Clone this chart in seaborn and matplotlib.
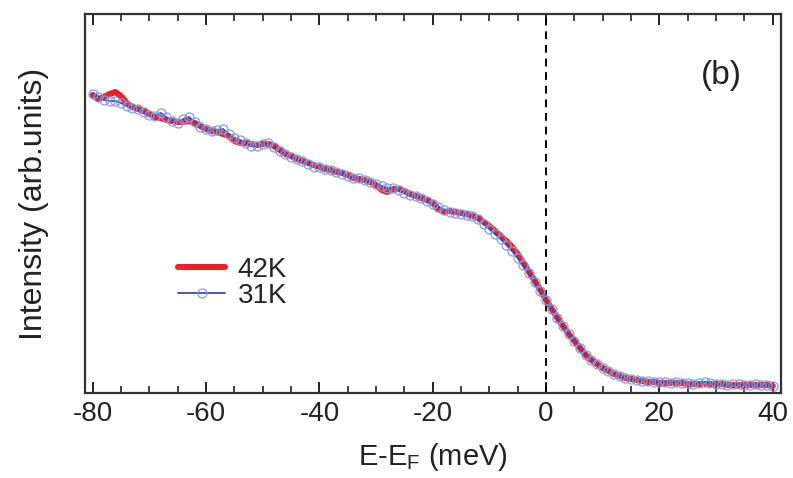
import numpy as np
import pandas as pd
import matplotlib
matplotlib.use("Agg")
import matplotlib.pyplot as plt
import seaborn as sns
from matplotlib.ticker import MultipleLocator

# Energy grid (meV, relative to the Fermi level)
energy = list(range(-80, 41))

# 31K spectrum (arb. units)
intensity_31k = [
    299, 296, 293, 292, 292, 290, 287, 285, 284, 281,
    278, 277, 280, 276, 272, 270, 274, 276, 271, 266,
    264, 262, 263, 264, 259, 255, 253, 250, 247, 247,
    249, 250, 246, 242, 239, 236, 234, 232, 229, 226,
    226, 224, 223, 221, 219, 217, 215, 215, 213, 211,
    209, 207, 205, 205, 203, 200, 198, 197, 195, 192,
    189, 186, 183, 181, 180, 179, 178, 177, 174, 169,
    164, 159, 154, 148, 142, 135, 128, 120, 111, 102,
    93, 84, 75, 67, 59, 52, 45, 38, 33, 29,
    25, 22, 19, 17, 15, 14, 13, 12, 12, 11,
    11, 11, 10, 11, 10, 10, 9, 10, 11, 10,
    9, 9, 8, 9, 9, 8, 8, 9, 8, 8,
    7,
]

# 42K spectrum (arb. units)
intensity_42k = [
    298, 294, 296, 299, 301, 297, 290, 286, 284, 282,
    279, 276, 275, 273, 272, 271, 271, 272, 270, 267,
    264, 262, 261, 259, 257, 252, 250, 250, 249, 248,
    249, 249, 247, 243, 239, 237, 234, 232, 230, 228,
    226, 224, 223, 221, 220, 218, 215, 214, 213, 211,
    208, 203, 201, 204, 204, 202, 199, 197, 195, 193,
    190, 184, 181, 182, 181, 180, 179, 177, 175, 171,
    167, 162, 157, 152, 146, 139, 130, 121, 112, 103,
    93, 84, 75, 67, 59, 52, 45, 38, 33, 29,
    25, 22, 19, 17, 15, 14, 13, 12, 11, 11,
    10, 10, 10, 10, 10, 9, 9, 9, 9, 9,
    9, 9, 8, 8, 8, 8, 8, 8, 8, 8,
    7,
]

x_ticks = [-80, -60, -40, -20, 0, 20, 40]

df_42 = pd.DataFrame({"E": energy, "I": intensity_42k})
df_31 = pd.DataFrame({"E": energy, "I": intensity_31k})

sns.set_theme(style="white")
plt.rcParams["font.family"] = ["Liberation Sans", "DejaVu Sans"]
plt.rcParams["axes.unicode_minus"] = False

fig = plt.figure(figsize=(7.93, 4.78), dpi=100)
ax = fig.add_axes([0.1072, 0.1778, 0.8777, 0.7929])

sns.lineplot(data=df_42, x="E", y="I", ax=ax, color="#e8232b", lw=4.4,
             label="42K", solid_capstyle="round")
sns.lineplot(data=df_31, x="E", y="I", ax=ax, color="#3a4aa8", lw=1.3,
             marker="o", markersize=6.5, markerfacecolor="none",
             markeredgecolor="#8a9adb", markeredgewidth=0.9, label="31K")

ax.axvline(0, color="black", lw=1.4, ls=(0, (4, 3)), zorder=1)

ax.set_xlim(-81.36, 41.46)
ax.set_ylim(0, 379)
ax.set_xticks(x_ticks)
ax.xaxis.set_minor_locator(MultipleLocator(5))
ax.set_yticks([])
ax.tick_params(axis="x", which="major", direction="in", length=8, width=1.4,
               top=True, bottom=True, labelsize=20, pad=6, color="#222222",
               labelcolor="#222222")
ax.tick_params(axis="x", which="minor", direction="in", length=5, width=1.2,
               top=True, bottom=True, color="#222222")
for s in ax.spines.values():
    s.set_color("#333333")
    s.set_linewidth(1.6)

ax.set_xlabel(r"E-E$_\mathregular{F}$ (meV)", fontsize=21, labelpad=10, color="#222222")
ax.set_ylabel("Intensity (arb.units)", fontsize=23, labelpad=26, color="#222222")

ax.text(0.914, 0.839, "(b)", transform=ax.transAxes, fontsize=24,
        ha="center", va="center", color="#222222")

leg = ax.legend(loc="upper left", bbox_to_anchor=(0.1336, 0.36), frameon=False,
                fontsize=20, handlelength=1.7, handletextpad=0.45,
                labelspacing=0.02, borderaxespad=0, borderpad=0)

fig.savefig("out.png", dpi=100)
